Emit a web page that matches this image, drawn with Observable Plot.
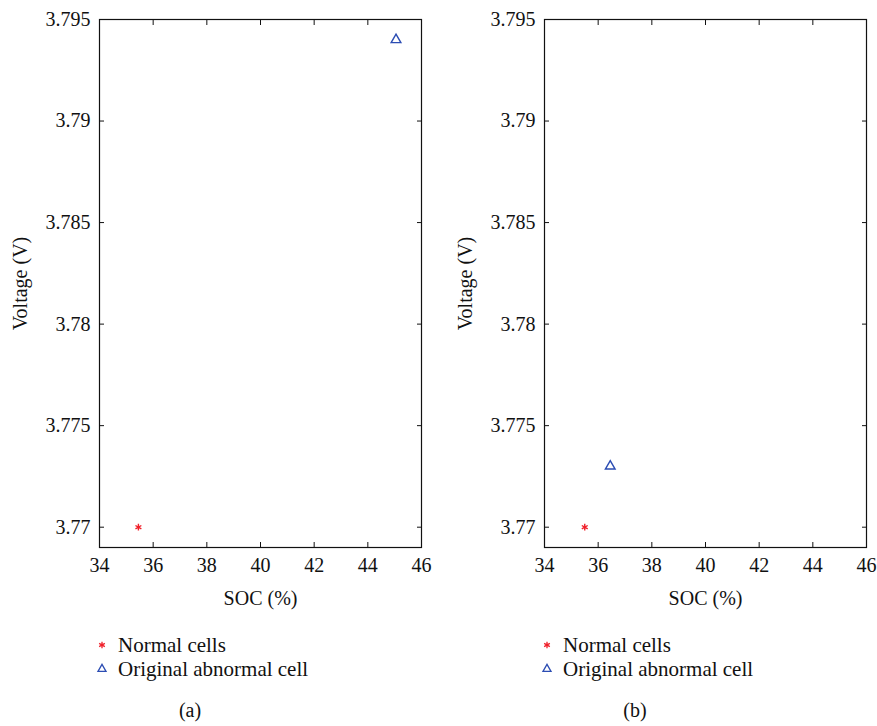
<!DOCTYPE html>
<html>
<head>
<meta charset="utf-8">
<script src="https://cdn.jsdelivr.net/npm/d3@7"></script>
<script src="https://cdn.jsdelivr.net/npm/@observablehq/plot@0.6"></script>
<style>
  html, body { margin: 0; padding: 0; background: #fff; }
  body { width: 877px; height: 726px; position: relative; overflow: hidden; font-family: "Liberation Serif", "DejaVu Serif", serif; }
  .panel { position: absolute; top: 0; width: 440px; height: 620px; }
  .panel svg { max-width: none !important; font-family: "Liberation Serif", "DejaVu Serif", serif !important; }
  .legend { position: absolute; font-size: 21px; color: #111; white-space: nowrap; }
  .legend .row { display: flex; align-items: center; height: 24px; }
  .legend svg { margin-right: 10px; }
  .cap { position: absolute; font-size: 20px; color: #111; transform: translateX(-50%); }
</style>
</head>
<body>
<script>
// ---- data ----
const seriesNames = ["Normal cells", "Original abnormal cell"];
const panelLabels = ["(a)", "(b)"];
const normalSOC = [35.45, 35.5];
const normalV = [3.770, 3.770];
const abnormalSOC = [45.05, 36.45];
const abnormalV = [3.794, 3.773];
const xTicks = [34, 36, 38, 40, 42, 44, 46];
const yTicks = [3.77, 3.775, 3.78, 3.785, 3.79, 3.795];
const xDomain = [34, 46];
const yDomain = [3.769, 3.795];

const RED = "#f0202a";
const BLUE = "#2c4db3";
const FONT = '"Liberation Serif", "DejaVu Serif", serif';

function panel(i) {
  const normal = [{soc: normalSOC[i], v: normalV[i]}];
  const abnormal = [{soc: abnormalSOC[i], v: abnormalV[i]}];
  const fmt = d => String(+d.toFixed(3));
  return Plot.plot({
    width: 440,
    height: 620,
    marginLeft: 99,
    marginRight: 19,
    marginTop: 19,
    marginBottom: 73,
    style: {fontFamily: FONT, fontSize: "20px", color: "#111", background: "transparent"},
    x: {domain: xDomain, ticks: xTicks},
    y: {domain: yDomain, ticks: yTicks},
    marks: [
      Plot.frame({stroke: "#111", strokeWidth: 1.2}),
      Plot.axisX({anchor: "bottom", ticks: xTicks, tickSize: -5, tickPadding: 15, label: null, tickFormat: d => d, fontSize: 20}),
      Plot.axisX({anchor: "top", ticks: xTicks, tickSize: -5, label: null, tickFormat: () => ""}),
      Plot.axisY({anchor: "left", ticks: yTicks, tickSize: -5, tickPadding: 14, label: null, tickFormat: fmt, fontSize: 20}),
      Plot.axisY({anchor: "right", ticks: yTicks, tickSize: -5, label: null, tickFormat: () => ""}),
      Plot.text(["SOC (%)"], {frameAnchor: "bottom", dy: 51, lineAnchor: "middle", textAnchor: "middle", text: d => d, fontSize: 20, fill: "#111"}),
      Plot.text(["Voltage (V)"], {frameAnchor: "left", dx: -79, rotate: -90, lineAnchor: "middle", textAnchor: "middle", text: d => d, fontSize: 20, fill: "#111"}),
      Plot.dot(normal, {x: "soc", y: "v", symbol: "asterisk", r: 3.2, stroke: RED, strokeWidth: 1.4}),
      Plot.dot(abnormal, {x: "soc", y: "v", symbol: "triangle", r: 3.6, stroke: BLUE, strokeWidth: 1.4, fill: "none"})
    ]
  });
}

function symbolSvg(type, color) {
  const s = d3.symbol(type === "asterisk" ? d3.symbolAsterisk : d3.symbolTriangle, type === "asterisk" ? 30 : 28)();
  return `<svg width="12" height="12" viewBox="-6 -6 12 12"><path d="${s}" fill="none" stroke="${color}" stroke-width="1.3"/></svg>`;
}

const offsets = [0, 445];
offsets.forEach((left, i) => {
  const div = document.createElement("div");
  div.className = "panel";
  div.style.left = left + "px";
  div.appendChild(panel(i));
  document.body.appendChild(div);

  const leg = document.createElement("div");
  leg.className = "legend";
  leg.style.left = (left + 96) + "px";
  leg.style.top = "633px";
  leg.innerHTML =
    `<div class="row">${symbolSvg("asterisk", RED)}<span>${seriesNames[0]}</span></div>` +
    `<div class="row">${symbolSvg("triangle", BLUE)}<span>${seriesNames[1]}</span></div>`;
  document.body.appendChild(leg);

  const cap = document.createElement("div");
  cap.className = "cap";
  cap.style.left = (left + 190) + "px";
  cap.style.top = "699px";
  cap.textContent = panelLabels[i];
  document.body.appendChild(cap);
});
</script>
</body>
</html>
